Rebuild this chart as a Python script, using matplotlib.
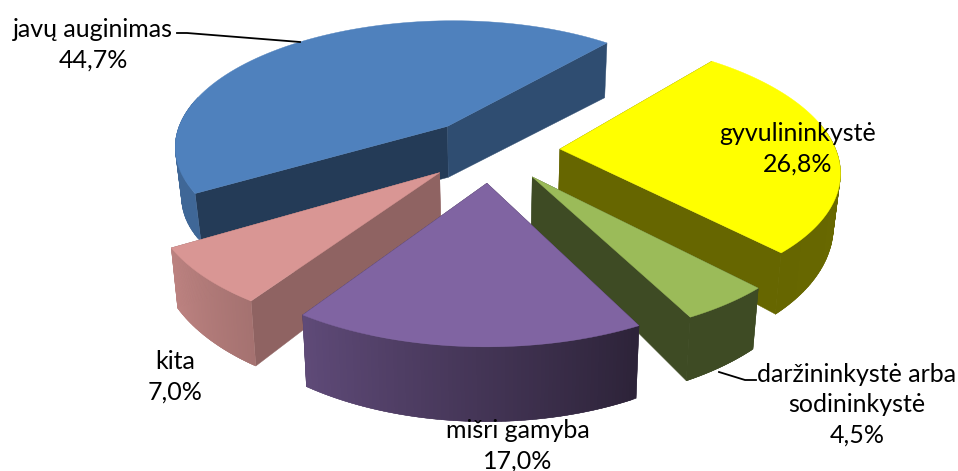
import numpy as np
import matplotlib
matplotlib.use("Agg")
import matplotlib.pyplot as plt
from matplotlib.patches import Polygon

plt.rcParams['font.family'] = ['Lato', 'DejaVu Sans']

labels = ["gyvulininkystė", "daržininkystė arba\nsodininkystė", "mišri gamyba", "kita", "javų auginimas"]
values = [26.8, 4.5, 17.0, 7.0, 44.7]
pct = ["26,8%", "4,5%", "17,0%", "7,0%", "44,7%"]
top_colors = ["#FFFF00", "#9BBB59", "#8064A2", "#D99694", "#4F81BD"]
# wall shades (outer wall at start and end of the arc, cut wall at start, cut wall at end)
outer_shade = [(0.43, 0.40), (0.40, 0.40), (0.35, 0.74), (0.76, 0.87), (0.80, 0.80)]
cut_start = [0.40, 0.40, 0.40, 0.66, 0.46]
cut_end = [0.40, 0.40, 0.40, 0.66, 0.60]
depth_base = [49, 46, 52, 50, 50]
depth_tilt = [0.35, 0.35, 0.35, 0.30, -0.1]
draw_order = [4, 0, 3, 1, 2]

START = 50.0
CX, CY = 491.0, 150.0
SX, SY = 276.0, 128.0
PERSP = 0.15
CONVERGE = 0.02
EXPLODE = 0.25

fig = plt.figure(figsize=(9.58, 4.71), dpi=100)
ax = fig.add_axes([0, 0, 1, 1])
ax.set_xlim(0, 958)
ax.set_ylim(471, 0)
ax.axis("off")


def proj(X, Y, z=0.0, d=48.0, tilt=0.3):
    w = 1 + PERSP * Y
    return np.column_stack([CX + SX * X / w * (1 - CONVERGE * z),
                            CY - SY * Y / w + z * d * (1 - tilt * Y)])


def quad(p, q, color, zo):
    ax.add_patch(Polygon(np.vstack([p, q[::-1]]), closed=True, fc=color, ec=color, lw=0.3, zorder=zo))


def shade(rgb, f):
    return tuple(np.array(rgb) * f)


shares = np.array(values) / sum(values) * 360
edges = START - np.concatenate([[0], np.cumsum(shares)])

for rank, i in enumerate(draw_order):
    a0, a1 = np.radians(edges[i]), np.radians(edges[i + 1])
    mid = (a0 + a1) / 2
    ox, oy = EXPLODE * np.cos(mid), EXPLODE * np.sin(mid)
    th = np.linspace(a0, a1, 90)
    X = ox + np.cos(th)
    Y = oy + np.sin(th)
    rgb = matplotlib.colors.to_rgb(top_colors[i])
    base = 10 + rank * 5
    d, t = depth_base[i], depth_tilt[i]
    # cut walls
    for ang, sh in ((a0, cut_start[i]), (a1, cut_end[i])):
        r = np.array([0, 1.0])
        x, y = ox + r * np.cos(ang), oy + r * np.sin(ang)
        quad(proj(x, y), proj(x, y, 1, d, t), shade(rgb, sh), base + 1)
    # outer wall, drawn in thin overlapping strips for the gradient; far side is hidden
    ss = outer_shade[i]
    for j in range(len(th) - 1):
        if np.sin(th[j]) > 0.2:
            continue
        f = ss[0] + (ss[1] - ss[0]) * j / (len(th) - 2)
        k = min(j + 3, len(th))
        quad(proj(X[j:k], Y[j:k]), proj(X[j:k], Y[j:k], 1, d, t), shade(rgb, f), base + 2)
    # top
    pts = np.vstack([proj(np.array([ox]), np.array([oy])), proj(X, Y)])
    ax.add_patch(Polygon(pts, closed=True, fc=rgb, ec=rgb, lw=0.3, zorder=base + 3))

fs = 18
ls = 1.38
ax.text(798, 149, f"{labels[0]}\n{pct[0]}", ha="center", va="center", fontsize=fs, zorder=50, linespacing=ls)
ax.text(857, 405, f"{labels[1]}\n{pct[1]}", ha="center", va="center", fontsize=fs, zorder=50, linespacing=ls)
ax.text(518, 446, f"{labels[2]}\n{pct[2]}", ha="center", va="center", fontsize=fs, zorder=50, linespacing=ls)
ax.text(175, 377, f"{labels[3]}\n{pct[3]}", ha="center", va="center", fontsize=fs, zorder=50, linespacing=ls)
ax.text(93, 45, f"{labels[4]}\n{pct[4]}", ha="center", va="center", fontsize=fs, zorder=50, linespacing=ls)
ax.plot([177, 187, 300], [33, 33, 42], color="black", lw=1.3, zorder=49)
ax.plot([756, 745, 719], [380, 380, 372], color="black", lw=1.3, zorder=49)

fig.savefig("out.png", dpi=100)
